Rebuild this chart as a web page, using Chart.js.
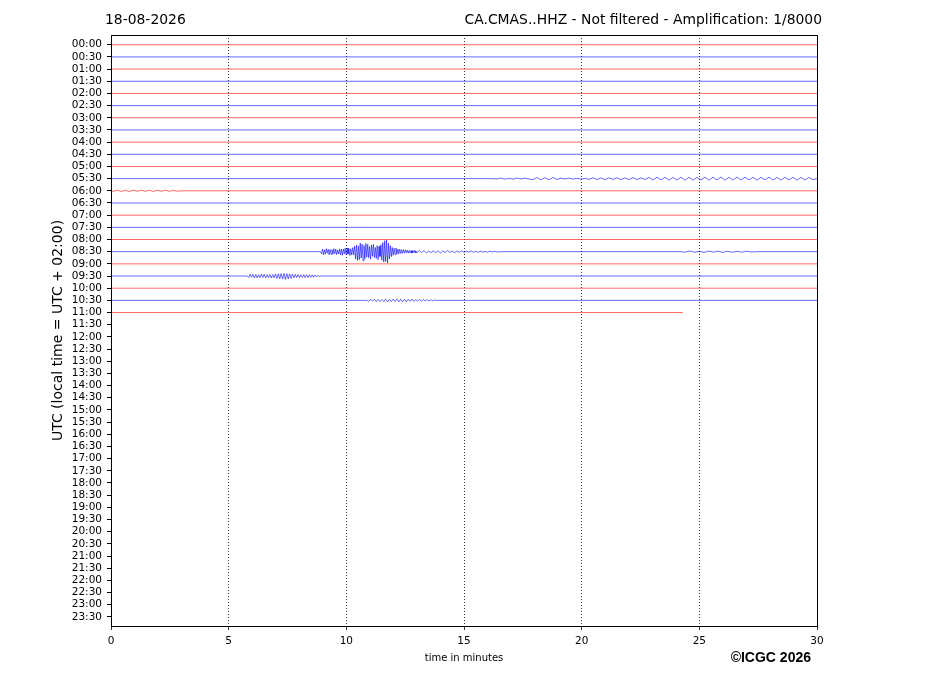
<!DOCTYPE html>
<html>
<head>
<meta charset="utf-8">
<script src="https://cdn.jsdelivr.net/npm/chart.js@4"></script>
<style>
  html, body { margin: 0; padding: 0; background: #fff; }
  #wrap { width: 927px; height: 696px; }
</style>
</head>
<body>
<div id="wrap"><canvas id="heli"></canvas></div>
<script>
// one trace per half hour, minutes along x
const rowLabels = ['00:00','00:30','01:00','01:30','02:00','02:30','03:00','03:30','04:00','04:30',
  '05:00','05:30','06:00','06:30','07:00','07:30','08:00','08:30','09:00','09:30',
  '10:00','10:30','11:00','11:30','12:00','12:30','13:00','13:30','14:00','14:30',
  '15:00','15:30','16:00','16:30','17:00','17:30','18:00','18:30','19:00','19:30',
  '20:00','20:30','21:00','21:30','22:00','22:30','23:00','23:30'];
const xTicks = [0, 5, 10, 15, 20, 25, 30];
const lastRow = 22;        // 11:00 is the last trace recorded
const lastRowEnd = 24.3;   // minutes

// amplitudes in units of one row spacing
const wave0530 = [0.03,-0.04,0.04,-0.03,0.04,-0.04,0.03,-0.04,0.03,
  0.08,-0.09,0.1,-0.08,0.09,-0.1,0.07,
  -0.04,0.03,-0.04,0.04,-0.03,0.04,-0.03,
  0.06,-0.07,0.07,-0.06,0.08,-0.07,0.06,-0.07,0.08,-0.06,0.07,-0.08,0.07,-0.06,0.07,
  -0.1,0.11,-0.12,0.1,-0.11,0.12,-0.1,0.11,-0.12,0.13,-0.11,0.12,-0.1,0.11,-0.12,0.13,
  -0.12,0.11,-0.13,0.12,-0.11,0.12,-0.13,0.11,-0.12,0.1,-0.11,0.12,-0.11,0.1,-0.12,0.11,
  -0.1,0.12,-0.11,0.1,-0.11,0.12,-0.1,0.11,-0.1,0.09];
const wiggle0600 = [0.04,-0.05,0.05,-0.04,0.05,-0.05,0.04,-0.05,0.04,-0.04,0.05,-0.04,0.04,-0.05,0.04,-0.03,0.03,0];
const blip0500 = [0.1,-0.05,0.04,0];
const quake0830a = [0.18,-0.22,0.25,-0.15,0.2,-0.24,0.12,-0.2,0.26,-0.18,0.22,-0.16,0.2,-0.25,0.17,-0.21,0.24,-0.14,0.19,-0.23,
  0.26,-0.2,0.3,-0.22,0.18,-0.28,0.24,-0.3,0.2,-0.26,0.32,-0.24,0.28,-0.33,0.25,
  -0.45,0.6,-0.55,0.72,-0.48,0.66,-0.7,0.52,-0.62,0.75,-0.5,0.58,-0.68,0.45,-0.6,
  0.5,-0.42,0.62,-0.55,0.38,-0.6,0.48,-0.35,0.55,-0.5,0.65,-0.45,0.4,-0.58,0.7,
  -0.75,0.85,-0.9,0.8,-0.95,0.92,-0.7,0.6,-0.5,0.4,
  -0.35,0.3,-0.28,0.25,-0.3,0.2,-0.22,0.18,-0.2,0.15,-0.17,0.14,-0.16,0.12,-0.15,0.1,-0.13,0.12,-0.1,0.11,-0.09,0.12,-0.1,0.08,-0.1,0.09];
const quake0830b = [0.08,-0.1,0.07,-0.09,0.1,-0.06,0.08,-0.07,0.09,-0.08,0.12,-0.06,0.07,-0.1,0.06,-0.05,0.08,-0.06,
  0.05,-0.07,0.06,-0.05,0.04,-0.06,0.05,-0.04,0.06,-0.05,0.04,-0.03,0.05,-0.04,0.03,-0.04,0.03,0];
const quake0830c = [0.04,-0.06,0.05,-0.04,0.06,-0.05,0.04,-0.05,0.06,-0.04,0.05,-0.03,0.04,-0.04,0.03,0];
const event0930 = [0.12,-0.15,0.1,-0.14,0.16,-0.12,0.15,-0.1,0.13,-0.16,0.12,-0.14,0.15,-0.11,0.14,-0.13,0.16,-0.12,
  0.15,-0.17,0.2,-0.18,0.22,-0.2,0.25,-0.22,0.28,-0.2,0.24,-0.18,0.2,-0.16,0.15,-0.14,0.13,-0.12,
  0.14,-0.1,0.12,-0.11,0.13,-0.1,0.12,-0.11,0.1,-0.09,0.11,-0.08,0.07,-0.06,0.05,0];
const event1030 = [0.08,-0.1,0.07,-0.09,0.11,-0.08,0.1,-0.07,0.09,-0.1,0.12,-0.08,0.1,-0.11,0.09,-0.12,0.13,-0.1,
  0.11,-0.09,0.12,-0.1,0.08,-0.11,0.09,-0.07,0.08,-0.09,0.07,-0.08,0.06,-0.07,0.06,-0.05,0.04,-0.03,0];

const segments = [
  {row: 10, start: 15.05, step: 0.05, amps: blip0500},
  {row: 11, start: 16.4, step: 0.17, amps: wave0530},
  {row: 12, start: 0.1, step: 0.17, amps: wiggle0600},
  {row: 17, start: 8.95, step: 0.04, amps: quake0830a},
  {row: 17, start: 13.0, step: 0.1, amps: quake0830b},
  {row: 17, start: 24.4, step: 0.2, amps: quake0830c},
  {row: 19, start: 5.85, step: 0.06, amps: event0930},
  {row: 21, start: 10.95, step: 0.08, amps: event1030}
];

const datasets = [];
for (let r = 0; r <= lastRow; r++) {
  const pts = [{x: 0, y: r}];
  segments.filter(s => s.row === r).forEach(s => {
    pts.push({x: s.start - s.step, y: r});
    s.amps.forEach((a, i) => pts.push({x: s.start + i * s.step, y: r + a}));
    pts.push({x: s.start + s.amps.length * s.step, y: r});
  });
  pts.push({x: r === lastRow ? lastRowEnd : 30, y: r});
  datasets.push({
    data: pts,
    borderColor: r % 2 === 0 ? '#ff0000' : '#0000ff',
    borderWidth: 0.6,
    pointRadius: 0,
    tension: 0
  });
}

const frame = {
  id: 'frame',
  afterDraw(chart) {
    const c = chart.ctx, a = chart.chartArea;
    c.save();
    c.strokeStyle = '#000';
    c.lineWidth = 1;
    c.strokeRect(Math.round(a.left) + 0.5, Math.round(a.top) + 0.5, Math.round(a.right - a.left), Math.round(a.bottom - a.top));
    c.fillStyle = '#000';
    c.font = '13.9px "DejaVu Sans"';
    c.textBaseline = 'middle';
    c.textAlign = 'left';
    c.fillText('18-08-2026', 105, 20);
    c.textAlign = 'right';
    c.fillText('CA.CMAS..HHZ - Not filtered - Amplification: 1/8000', 822, 20);
    c.font = 'bold 14px "Liberation Sans"';
    c.fillText('©ICGC 2026', 811, 658);
    c.restore();
  }
};

new Chart(document.getElementById('heli'), {
  type: 'line',
  data: {datasets: datasets},
  plugins: [frame],
  options: {
    responsive: true,
    maintainAspectRatio: false,
    animation: false,
    events: [],
    layout: {padding: {left: 50, right: 110, top: 35, bottom: 32}},
    plugins: {legend: {display: false}, tooltip: {enabled: false}},
    scales: {
      x: {
        type: 'linear', min: 0, max: 30,
        afterBuildTicks: s => { s.ticks = xTicks.map(v => ({value: v})); },
        afterFit: s => { s.height = 38; },
        ticks: {color: '#000', font: {family: 'DejaVu Sans', size: 10.5}, padding: 5, maxRotation: 0},
        grid: {
          color: ctx => (ctx.tick && (ctx.tick.value === 0 || ctx.tick.value === 30)) ? 'rgba(0,0,0,0)' : '#000',
          lineWidth: 0.8, tickColor: '#000', tickLength: 4, tickBorderDash: []
        },
        border: {display: false, dash: [1, 2]},
        title: {display: true, text: 'time in minutes', color: '#000', font: {family: 'DejaVu Sans', size: 10}, padding: {top: 4, bottom: 0}}
      },
      y: {
        type: 'linear', reverse: true, min: -0.8, max: 47.75,
        afterBuildTicks: s => { s.ticks = rowLabels.map((l, i) => ({value: i})); },
        afterFit: s => { s.width = 61; },
        ticks: {color: '#000', font: {family: 'DejaVu Sans', size: 10.5}, padding: 5, autoSkip: false,
          callback: v => rowLabels[v]},
        grid: {drawOnChartArea: false, tickColor: '#000', tickLength: 4},
        border: {display: false},
        title: {display: true, text: 'UTC (local time = UTC + 02:00)', color: '#000', font: {family: 'DejaVu Sans', size: 14}, padding: {top: 0, bottom: 0}}
      }
    }
  }
});
</script>
</body>
</html>
